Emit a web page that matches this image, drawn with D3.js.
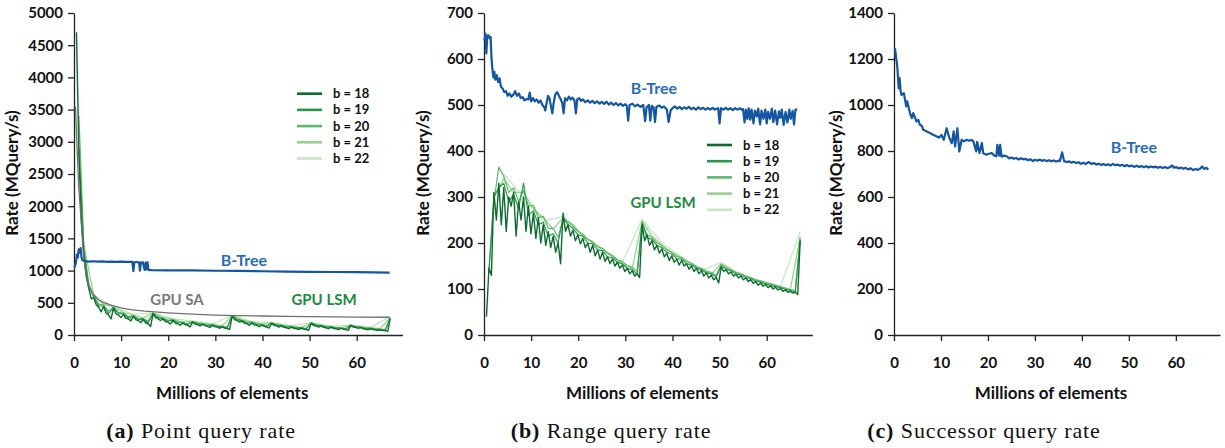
<!DOCTYPE html>
<html>
<head>
<meta charset="utf-8">
<script src="https://cdn.jsdelivr.net/npm/d3@7"></script>
<style>
  body { margin: 0; background: #fff; }
  text { font-family: Lato, "Open Sans", sans-serif; font-weight: bold; }
</style>
</head>
<body>
<svg id="chart" width="1225" height="448"></svg>
<script>
let svg = d3.select("#chart");

// legend batch sizes (b) and their colours
let batchBits = [18, 19, 20, 21, 22];
let batchColors = ["#0d6b30", "#2a9a4a", "#5db869", "#94d18e", "#c6e7bf"];
// x step (millions of elements) between samples of each series
let batchStep = [0.524288, 1.048576, 1.048576, 2.097152, 4.194304];

// (a) point query rate, GPU LSM
let pointB18 = [4700,2800,1750,1250,900,720,560,580,470,430,360,440,340,310,250,420,
  330,310,270,320,260,250,220,290,240,225,195,240,190,175,130,330,
  270,255,225,250,210,200,170,225,185,175,150,185,160,150,125,200,
  170,160,140,165,145,135,118,150,130,122,105,125,108,100,85,295,
  240,225,200,215,185,175,150,185,158,150,128,152,135,125,108,180,
  150,142,122,140,120,112,98,122,105,98,85,105,92,85,72,180,
  150,140,122,140,120,112,98,120,105,98,85,102,90,84,72,145,
  125,118,102,115,98,92,80,98,85,80,70,82,72,67,58,250];
let pointB19 = [2900,1300,760,590,450,450,330,425,330,330,265,295,240,245,190,335,
  270,255,215,230,190,190,160,205,170,170,145,155,130,130,110,298,
  240,220,185,190,160,158,135,185,150,145,120,128,108,110,92,185,
  150,145,120,125,105,107,90,150,125,120,100,103,88,87,75,260];
let pointB20 = [3400,1350,790,600,480,465,370,430,350,340,285,300,255,255,215,340,
  285,265,230,240,205,198,175,210,180,178,155,162,140,137,122,300,
  248,228,198,198,172,165,145,188,160,152,130,135,117,116,102,188,
  158,150,128,130,112,112,98,153,130,125,108,108,94,92,82,268];
let pointB21 = [1400,610,475,435,350,310,265,342,275,248,200,212,185,168,142,302,
  235,205,172,190,160,140,120,190,155,135,115,155,128,115,98,275];
let pointB22 = [620,440,320,345,255,215,175,305,210,192,145,192,140,158,118,285];

// (a) GPU SA: [millions, rate]
let pointSA = [[0.3,3550],[0.6,3000],[1,2300],[1.5,1800],[2,1250],[2.5,950],[3,780],[4,640],
  [5,560],[6,510],[8,460],[10,420],[12,395],[15,370],[20,345],[25,325],[30,310],
  [35,300],[40,295],[45,290],[50,285],[55,282],[60,279],[67,276]];

// (a) B-Tree
let pointBTree = [[0.1,1050],[0.4,1120],[0.6,1250],[0.8,1200],[1.0,1330],[1.2,1280],[1.4,1350],
  [1.6,1200],[1.8,1160],[2.2,1150],[3,1140],[4,1145],[5,1138],[6,1142],[7,1137],[8,1140],
  [9,1136],[10,1138],[11,1135],[12,1137],[12.4,1135],[12.6,990],[12.8,1130],[13.2,1133],
  [13.8,1130],[14.0,1000],[14.2,1125],[14.6,1130],[15.0,1010],[15.2,1125],[15.4,1020],
  [15.6,1130],[15.8,1010],[16.5,1008],[20,1005],[25,1002],[30,998],[35,995],[40,990],
  [45,985],[50,980],[55,978],[60,975],[67,968]];

// (b) range query rate, GPU LSM
let rangeB18 = [40,145,130,310,250,330,240,320,225,300,280,310,215,290,250,300,
  225,280,220,265,210,255,200,240,195,225,190,215,180,200,155,265,
  225,240,215,228,205,218,198,210,190,200,180,195,172,185,165,180,
  160,170,155,165,150,158,145,152,138,145,133,140,128,133,125,240,
  205,218,195,205,185,195,178,187,170,178,162,172,158,165,152,162,
  150,155,143,150,138,145,133,140,128,135,124,130,120,125,113,148,
  138,142,133,137,128,132,124,128,120,124,116,120,112,116,108,113,
  106,110,103,107,100,104,98,101,95,98,93,95,91,93,88,205];
let rangeB19 = [135,300,320,330,290,305,275,330,260,270,240,245,215,220,200,255,
  240,232,218,215,200,198,185,183,170,168,158,155,145,142,132,243,
  212,208,195,190,180,176,166,165,155,152,145,142,135,133,126,150,
  143,139,133,130,125,122,117,115,111,108,105,103,99,97,94,208];
let rangeB20 = [145,290,365,345,310,320,290,315,280,282,255,258,232,232,212,252,
  245,238,225,220,208,203,192,188,178,173,163,160,151,147,138,246,
  218,212,200,195,185,180,171,168,160,156,149,145,139,136,130,153,
  146,142,136,133,128,125,120,118,114,111,108,105,102,99,96,210];
let rangeB21 = [300,340,310,310,275,255,230,255,240,215,200,185,170,155,145,248,
  215,195,180,168,155,143,132,155,142,132,124,117,111,105,98,215];
let rangeB22 = [350,300,248,258,215,188,158,252,200,170,140,158,130,115,105,225];

// (b) B-Tree
let rangeBTree = [[0.1,640],[0.3,655],[0.5,612],[0.7,650],[0.9,652],[1.2,645],[1.4,648],[1.6,600],
  [1.8,576],[2.0,560],[2.2,572],[2.4,555],[2.7,565],[3.0,550],[3.3,558],[3.6,540],[4.0,535],
  [4.3,528],[4.7,530],[5.0,520],[5.4,525],[5.8,518],[6.2,522],[6.6,530],[7.0,520],[7.4,525],
  [7.8,515],[8.2,517],[8.6,510],[9.0,513],[9.4,512],[9.7,527],[10.0,508],[10.4,515],[10.8,508],
  [11.2,512],[11.6,505],[12.0,510],[12.4,500],[12.8,495],[13.0,488],[13.3,505],[13.6,520],
  [13.9,515],[14.2,498],[14.5,482],[14.8,505],[15.1,522],[15.5,528],[15.9,520],[16.3,512],
  [16.6,505],[16.9,482],[17.2,515],[17.6,510],[18.0,518],[18.4,512],[18.8,516],[19.2,510],
  [19.5,482],[19.8,512],[20.2,515],[20.6,509],[21,512],[21.5,506],[22,510],[22.5,505],[23,509],
  [23.5,504],[24,508],[24.5,503],[25,507],[25.5,502],[26,507],[26.5,501],[27,505],[27.5,500],
  [28,504],[28.5,499],[29,503],[29.5,498],[30,502],[30.3,498],[30.6,466],[30.9,500],[31.5,503],
  [32,497],[32.6,501],[33.2,496],[33.8,500],[34.2,465],[34.5,495],[35.0,500],[35.3,466],[35.6,498],
  [36.0,495],[36.3,463],[36.6,496],[37.2,499],[37.7,494],[38.2,497],[38.8,490],[39.2,463],[39.6,488],
  [40.0,493],[40.5,497],[41,492],[41.5,496],[42,491],[42.5,495],[43,492],[43.5,496],[44,491],
  [44.5,494],[45,490],[45.5,495],[46,491],[46.5,494],[47,490],[47.5,494],[48,490],[48.5,494],
  [49,490],[49.7,493],[50.0,460],[50.3,493],[50.8,490],[51.3,494],[51.8,490],[52.3,493],[52.8,489],
  [53.3,493],[53.8,490],[54.3,493],[54.8,489],[55,491],[55.3,462],
  [55.6,490],[55.9,470],[56.2,493],[56.5,468],[56.8,490],[57.2,460],[57.5,488],[57.9,475],
  [58.2,492],[58.6,458],[58.9,488],[59.3,470],[59.7,490],[60.0,460],[60.3,485],[60.7,470],
  [61.1,492],[61.4,463],[61.8,488],[62.2,458],[62.6,486],[62.9,472],[63.2,490],[63.6,457],
  [64.0,485],[64.4,462],[64.8,490],[65.1,470],[65.5,487],[65.8,458],[66.1,490],[66.5,490]];

// (c) successor query rate, B-Tree
let succBTree = [[0.2,1247],[0.7,1167],[1.0,1073],[1.2,1117],[1.4,1060],[1.6,1044],[2.1,1051],
  [2.6,994],[2.8,1016],[3.4,965],[3.8,943],[4.1,965],[4.8,928],[5.2,935],[5.5,914],[5.9,910],
  [6.2,892],[6.7,888],[7.2,882],[7.7,878],[8.2,872],[8.6,868],[9.1,863],[9.6,858],[10.1,870],
  [10.6,849],[11.2,899],[11.8,856],[12.3,834],[12.7,885],[13.0,820],[13.5,899],[13.9,798],
  [14.4,849],[14.9,842],[15.5,849],[16.0,845],[16.5,848],[16.9,842],[17.5,798],[17.7,840],
  [18.2,791],[18.7,835],[19.0,790],[19.7,784],[20.2,788],[20.8,791],[21.3,781],[21.8,777],
  [22.0,827],[22.4,780],[22.6,827],[22.9,775],[23.4,780],[24.0,777],[24.5,768],[25.0,772],
  [25.5,766],[26.0,770],[26.5,763],[27.0,768],[27.5,764],[28.0,766],[28.5,760],[29.0,764],
  [29.6,756],[30.0,762],[30.6,758],[31.0,763],[31.5,757],[32.0,761],[32.5,756],[33.0,760],
  [33.5,755],[34.0,759],[34.5,754],[35.0,758],[35.3,756],[35.8,794],[36.2,756],[36.8,752],
  [37.3,755],[37.8,749],[38.2,753],[38.8,748],[39.3,751],[39.8,744],[40.3,749],[40.8,743],
  [41.1,748],[41.5,752],[42.0,744],[42.6,747],[43.1,741],[43.6,745],[44.1,739],[44.6,743],
  [45.1,738],[45.6,742],[46.1,737],[46.6,744],[47.1,738],[47.6,741],[48.1,736],[48.6,740],
  [49.1,734],[49.6,739],[50.1,733],[50.6,737],[51.1,731],[51.7,736],[52.2,730],[52.7,735],
  [53.2,729],[53.7,734],[54.2,728],[54.7,733],[55.2,729],[55.7,732],[56.2,727],[56.7,731],
  [57.2,726],[57.7,730],[58.2,725],[58.7,729],[59.2,737],[59.6,727],[60.1,730],[60.6,724],
  [61.1,728],[61.6,723],[62.1,727],[62.6,720],[63.1,725],[63.7,717],[64.2,722],[64.7,718],
  [65.2,724],[65.6,733],[66.0,722],[66.5,727],[66.9,719]];

let xTicks = [0, 10, 20, 30, 40, 50, 60];

function lsmSeries(values, k) {
  return values.map((v, i) => [(i + 1) * batchStep[k], v]);
}

function drawPanel(p) {
  let x = d3.scaleLinear().domain([0, p.xMax]).range([p.left, p.right]);
  let y = d3.scaleLinear().domain([0, p.yMax]).range([335, 13]);
  let line = d3.line().x(d => x(d[0])).y(d => y(d[1]));

  let yAxis = svg.append("g")
      .attr("transform", "translate(" + p.left + ",0)")
      .call(d3.axisLeft(y).tickValues(d3.range(0, p.yMax + 1, p.yStep))
        .tickSize(6).tickSizeOuter(0).tickPadding(5).tickFormat(d3.format("d")));
  let xAxis = svg.append("g")
      .attr("transform", "translate(0,335)")
      .call(d3.axisBottom(x).tickValues(xTicks).tickSize(6).tickSizeOuter(0).tickPadding(16));
  [xAxis, yAxis].forEach(a => {
    a.selectAll("path, line").attr("stroke", "#222").attr("stroke-width", 1.3);
    a.selectAll("text").attr("font-size", 15).attr("fill", "#111")
      .attr("font-family", "Lato, sans-serif").attr("font-weight", "bold");
  });

  svg.append("text")
      .attr("transform", "translate(" + p.titleX + ",173) rotate(-90)")
      .attr("text-anchor", "middle").attr("font-size", 17).attr("fill", "#111")
      .text("Rate (MQuery/s)");
  svg.append("text")
      .attr("x", (p.left + p.right) / 2 - 6).attr("y", 399)
      .attr("text-anchor", "middle").attr("font-size", 17).attr("fill", "#111")
      .text("Millions of elements");

  let cap = svg.append("text")
      .attr("x", p.capX).attr("y", 438).attr("text-anchor", "middle")
      .attr("font-size", 22).attr("fill", "#111").attr("letter-spacing", 0.9)
      .style("font-family", "'Liberation Serif', serif");
  cap.append("tspan").attr("font-weight", "bold").text(p.capTag);
  cap.append("tspan").attr("font-weight", "normal").text(" " + p.capText);

  if (p.lsm) {
    for (let k = p.lsm.length - 1; k >= 0; k--) {
      svg.append("path")
          .datum(lsmSeries(p.lsm[k], k))
          .attr("d", line)
          .attr("fill", "none")
          .attr("stroke", batchColors[k])
          .attr("stroke-width", k == 0 ? 1.4 : 1.2)
          .attr("stroke-linejoin", "round");
    }
  }
  if (p.sa) {
    svg.append("path").datum(p.sa).attr("d", line)
        .attr("fill", "none").attr("stroke", "#707070").attr("stroke-width", 1.3);
  }
  svg.append("path").datum(p.btree).attr("d", line)
      .attr("fill", "none").attr("stroke", "#1456a0").attr("stroke-width", 2.2)
      .attr("stroke-linejoin", "round");

  p.labels.forEach(l => {
    svg.append("text").attr("x", l.x).attr("y", l.y)
        .attr("text-anchor", "middle").attr("font-size", l.size)
        .attr("fill", l.color).text(l.text);
  });

  if (p.legend) {
    let lg = svg.append("g").attr("transform", "translate(" + p.legend[0] + "," + p.legend[1] + ")");
    batchBits.forEach((b, k) => {
      lg.append("line").attr("x1", 0).attr("x2", 25)
          .attr("y1", k * 16.2).attr("y2", k * 16.2)
          .attr("stroke", batchColors[k]).attr("stroke-width", 2.6);
      lg.append("text").attr("x", 36).attr("y", k * 16.2 + 4.5)
          .attr("font-size", 13).attr("fill", "#111").text("b = " + b);
    });
  }
}

drawPanel({
  left: 74, right: 402.4, xMax: 69.7, yMax: 5000, yStep: 500, titleX: 18,
  lsm: [pointB18, pointB19, pointB20, pointB21, pointB22], sa: pointSA, btree: pointBTree,
  labels: [
    {text: "B-Tree", x: 244, y: 266, color: "#2b6cb3", size: 16},
    {text: "GPU SA", x: 177, y: 305, color: "#7a7a7a", size: 15},
    {text: "GPU LSM", x: 324, y: 305, color: "#1e8a3e", size: 15}
  ],
  legend: [297, 93.7],
  capX: 201, capTag: "(a)", capText: "Point query rate"
});

drawPanel({
  left: 484, right: 812.4, xMax: 69.7, yMax: 700, yStep: 100, titleX: 429,
  lsm: [rangeB18, rangeB19, rangeB20, rangeB21, rangeB22], btree: rangeBTree,
  labels: [
    {text: "B-Tree", x: 654, y: 94, color: "#2b6cb3", size: 16},
    {text: "GPU LSM", x: 663, y: 208, color: "#1e8a3e", size: 15}
  ],
  legend: [707, 145],
  capX: 611, capTag: "(b)", capText: "Range query rate"
});

drawPanel({
  left: 894, right: 1220, xMax: 69.4, yMax: 1400, yStep: 200, titleX: 842,
  btree: succBTree,
  labels: [
    {text: "B-Tree", x: 1134, y: 153, color: "#2b6cb3", size: 16}
  ],
  capX: 984, capTag: "(c)", capText: "Successor query rate"
});
</script>
</body>
</html>
